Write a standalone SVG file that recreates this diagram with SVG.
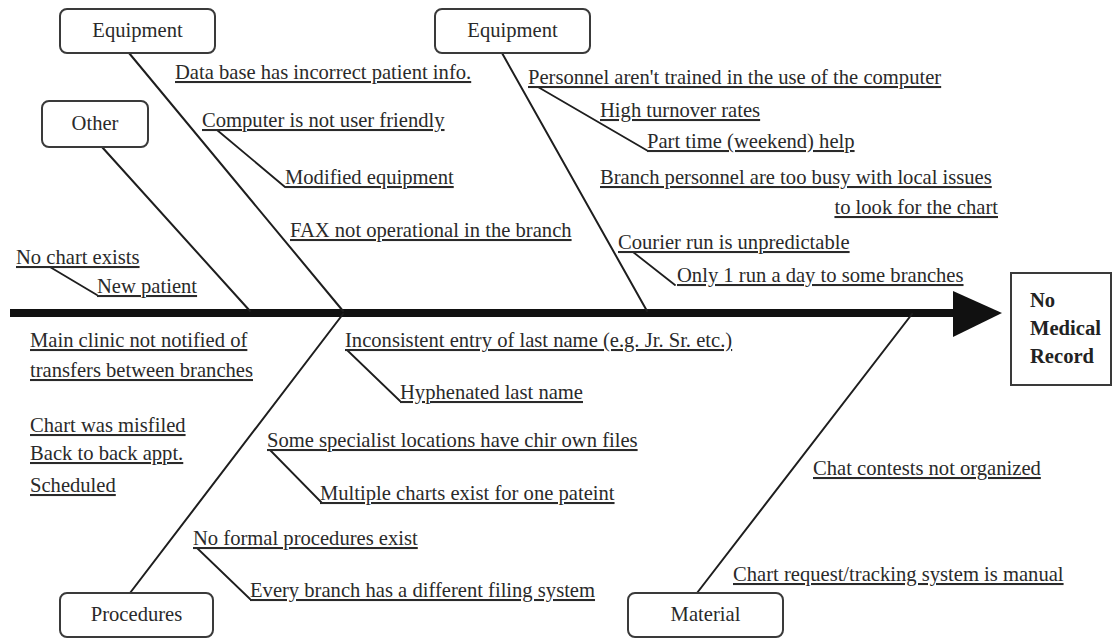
<svg xmlns="http://www.w3.org/2000/svg" width="1112" height="639" viewBox="0 0 1112 639">
  <style>
    .cat rect { fill: #ffffff; stroke: #3a3a3a; stroke-width: 2; }
    .cat text { font-family: "Liberation Serif", "Times New Roman", serif; font-size: 20.6px; fill: #2a2a2a; text-anchor: middle; }
    .cause { font-family: "Liberation Serif", "Times New Roman", serif; font-size: 20.6px; fill: #2a2a2a; text-decoration: underline; }
    .bone { stroke: #1e1e1e; stroke-width: 2; fill: none; stroke-linecap: round; }
    .sub { stroke: #1e1e1e; stroke-width: 1.8; fill: none; stroke-linecap: round; }
    .effect rect { fill: #ffffff; stroke: #3a3a3a; stroke-width: 2; }
    .effect text { font-family: "Liberation Serif", "Times New Roman", serif; font-size: 20.6px; font-weight: bold; fill: #222222; }
  </style>

  <rect x="0" y="0" width="1112" height="639" fill="#ffffff"/>

  <!-- connectors: spine, category bones and sub-cause links -->
  <g id="connectors">
    <line x1="10" y1="313" x2="956" y2="313" stroke="#111111" stroke-width="8"/>
    <polygon points="953,291 1002,313 953,337" fill="#111111"/>

    <line class="bone" x1="129" y1="53" x2="343" y2="311"/>
    <line class="bone" x1="102" y1="147" x2="250" y2="311"/>
    <line class="bone" x1="343" y1="314" x2="130" y2="593"/>
    <line class="bone" x1="502" y1="53" x2="647" y2="311"/>
    <line class="bone" x1="912" y1="314" x2="697" y2="593"/>

    <line class="sub" x1="217" y1="130" x2="285" y2="187"/>
    <line class="sub" x1="538" y1="87" x2="648" y2="151"/>
    <line class="sub" x1="633" y1="252" x2="675" y2="285"/>
    <line class="sub" x1="50" y1="267" x2="97" y2="295"/>
    <line class="sub" x1="347" y1="350" x2="400" y2="401"/>
    <line class="sub" x1="270" y1="450" x2="322" y2="503"/>
    <line class="sub" x1="197" y1="548" x2="250" y2="599"/>
  </g>

  <!-- category boxes -->
  <g id="cat-equipment-left" class="cat">
    <rect x="60" y="9" width="155" height="44" rx="7"/>
    <text x="137.5" y="37">Equipment</text>
  </g>
  <g id="cat-other" class="cat">
    <rect x="42" y="101" width="106" height="46" rx="7"/>
    <text x="95" y="130">Other</text>
  </g>
  <g id="cat-equipment-right" class="cat">
    <rect x="435" y="9" width="155" height="44" rx="7"/>
    <text x="512.5" y="37">Equipment</text>
  </g>
  <g id="cat-procedures" class="cat">
    <rect x="60" y="593" width="153" height="44" rx="7"/>
    <text x="136.5" y="621">Procedures</text>
  </g>
  <g id="cat-material" class="cat">
    <rect x="628" y="593" width="155" height="44" rx="7"/>
    <text x="705.5" y="621">Material</text>
  </g>

  <!-- effect box -->
  <g id="effect" class="effect">
    <rect x="1011" y="273" width="100" height="112"/>
    <text x="1030" y="307">No</text>
    <text x="1030" y="335">Medical</text>
    <text x="1030" y="363">Record</text>
  </g>

  <!-- causes: equipment (left) -->
  <g id="causes-equipment-left">
    <text class="cause" x="175" y="79">Data base has incorrect patient info.</text>
    <text class="cause" x="202" y="127">Computer is not user friendly</text>
    <text class="cause" x="285" y="184">Modified equipment</text>
    <text class="cause" x="290" y="237">FAX not operational in the branch</text>
  </g>

  <!-- causes: equipment (right) -->
  <g id="causes-equipment-right">
    <text class="cause" x="528" y="84">Personnel aren't trained in the use of the computer</text>
    <text class="cause" x="600" y="117">High turnover rates</text>
    <text class="cause" x="647" y="148">Part time (weekend) help</text>
    <text class="cause" x="600" y="184">Branch personnel are too busy with local issues</text>
    <text class="cause" x="998" y="214" text-anchor="end">to look for the chart</text>
    <text class="cause" x="618" y="249">Courier run is unpredictable</text>
    <text class="cause" x="677" y="282">Only 1 run a day to some branches</text>
  </g>

  <!-- causes: other -->
  <g id="causes-other">
    <text class="cause" x="16" y="264">No chart exists</text>
    <text class="cause" x="97" y="293">New patient</text>
    <text class="cause" x="30" y="347">Main clinic not notified of</text>
    <text class="cause" x="30" y="377">transfers between branches</text>
    <text class="cause" x="30" y="432">Chart was misfiled</text>
    <text class="cause" x="30" y="460">Back to back appt.</text>
    <text class="cause" x="30" y="492">Scheduled</text>
  </g>

  <!-- causes: procedures -->
  <g id="causes-procedures">
    <text class="cause" x="345" y="347">Inconsistent entry of last name (e.g. Jr. Sr. etc.)</text>
    <text class="cause" x="400" y="399">Hyphenated last name</text>
    <text class="cause" x="267" y="447">Some specialist locations have chir own files</text>
    <text class="cause" x="320" y="500">Multiple charts exist for one pateint</text>
    <text class="cause" x="193" y="545">No formal procedures exist</text>
    <text class="cause" x="250" y="597">Every branch has a different filing system</text>
  </g>

  <!-- causes: material -->
  <g id="causes-material">
    <text class="cause" x="813" y="475">Chat contests not organized</text>
    <text class="cause" x="733" y="581">Chart request/tracking system is manual</text>
  </g>
</svg>
